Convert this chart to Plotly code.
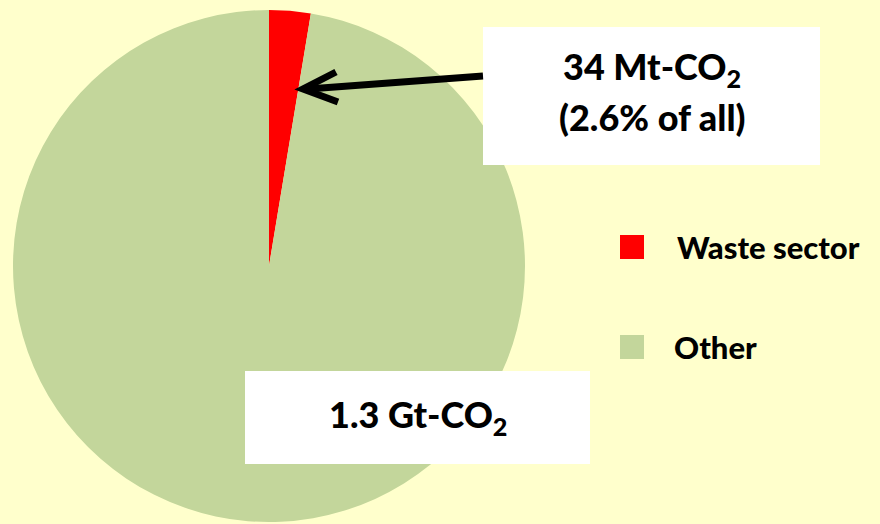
import plotly.graph_objects as go

W, H = 880, 524

# Emissions split (Mt-CO2)
sectors = ["Waste sector", "Other"]
emissions = [34, 1266]
colors = ["#FF0000", "#C3D69B"]

label_waste = ["34 Mt-CO<sub>2</sub>", "(2.6% of all)"]
label_total = "1.3 Gt-CO<sub>2</sub>"

BG = "#FFFFCC"
FONT = "Lato"
WEIGHT = 900


def px(x):
    return x / W


def py(y):
    return 1 - y / H


fig = go.Figure(
    go.Pie(
        labels=sectors,
        values=emissions,
        marker=dict(colors=colors, line=dict(width=0)),
        sort=False,
        direction="clockwise",
        rotation=0,
        textinfo="none",
        hoverinfo="label+value+percent",
        showlegend=False,
        domain=dict(x=[px(13), px(525)], y=[py(522), py(10)]),
    )
)

shapes = []
annotations = []

# white callout boxes
for x0, y0, x1, y1 in [(483, 27, 820, 165), (245, 371, 590, 464)]:
    shapes.append(dict(type="rect", xref="paper", yref="paper",
                       x0=px(x0), x1=px(x1), y0=py(y1), y1=py(y0),
                       fillcolor="white", line=dict(width=0), layer="above"))

# arrow pointing at the waste slice
shapes.append(dict(type="line", xref="paper", yref="paper",
                   x0=px(483), y0=py(76), x1=px(308), y1=py(89),
                   line=dict(color="black", width=7), layer="above"))
shapes.append(dict(type="path", xref="paper", yref="paper",
                   path=f"M{px(336)},{py(72)} L{px(303)},{py(89)} L{px(338)},{py(102)}",
                   line=dict(color="black", width=7), layer="above"))

# callout text, one annotation per line
for text, yc in zip(label_waste, [68, 117]):
    annotations.append(dict(xref="paper", yref="paper", x=px(652), y=py(yc),
                            text=text, showarrow=False, align="center",
                            font=dict(family=FONT, size=36, color="black", weight=WEIGHT),
                            xanchor="center", yanchor="middle"))
annotations.append(dict(xref="paper", yref="paper", x=px(418), y=py(416),
                        text=label_total, showarrow=False, align="center",
                        font=dict(family=FONT, size=36, color="black", weight=WEIGHT),
                        xanchor="center", yanchor="middle"))

# legend swatches and labels
for i, (name, col) in enumerate(zip(sectors, colors)):
    yc = 247 + i * 100
    shapes.append(dict(type="rect", xref="paper", yref="paper",
                       x0=px(620), x1=px(644), y0=py(yc + 12), y1=py(yc - 12),
                       fillcolor=col, line=dict(width=0)))
    annotations.append(dict(xref="paper", yref="paper", x=px(675 if i == 0 else 672), y=py(yc),
                            text=name, showarrow=False,
                            font=dict(family=FONT, size=31, color="black", weight=WEIGHT),
                            xanchor="left", yanchor="middle"))

fig.update_layout(
    width=W, height=H,
    margin=dict(l=0, r=0, t=0, b=0),
    paper_bgcolor=BG, plot_bgcolor=BG,
    shapes=shapes, annotations=annotations,
)

fig.write_html("out.html")
